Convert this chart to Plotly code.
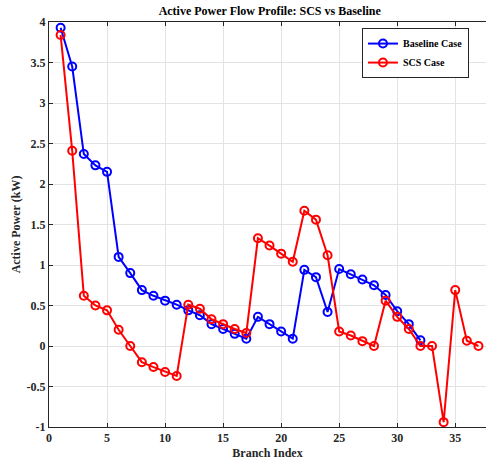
import plotly.graph_objects as go

branch_base = list(range(1, 33))
baseline = [3.93, 3.45, 2.37, 2.23, 2.15, 1.10, 0.90, 0.69, 0.62, 0.56, 0.51,
            0.44, 0.38, 0.27, 0.21, 0.15, 0.09, 0.36, 0.27, 0.18, 0.09, 0.94,
            0.85, 0.42, 0.95, 0.885, 0.82, 0.75, 0.63, 0.43, 0.27, 0.07]
branch_scs = list(range(1, 38))
scs = [3.84, 2.41, 0.62, 0.50, 0.44, 0.20, 0.00, -0.20, -0.26, -0.32, -0.37,
       0.51, 0.46, 0.33, 0.27, 0.21, 0.16, 1.33, 1.24, 1.14, 1.04, 1.67,
       1.56, 1.12, 0.18, 0.13, 0.06, 0.00, 0.56, 0.36, 0.21, 0.00, 0.00,
       -0.94, 0.69, 0.065, 0.00]
x_ticks = [0, 5, 10, 15, 20, 25, 30, 35]
y_ticks = [-1, -0.5, 0, 0.5, 1, 1.5, 2, 2.5, 3, 3.5, 4]

FONT = "Liberation Serif"

fig = go.Figure()
fig.add_trace(go.Scatter(
    x=branch_base, y=baseline, mode="lines+markers", name="<b>Baseline Case</b>",
    line=dict(color="#0000ff", width=2),
    marker=dict(symbol="circle-open", size=8, color="#0000ff", line=dict(width=2))))
fig.add_trace(go.Scatter(
    x=branch_scs, y=scs, mode="lines+markers", name="<b>SCS Case</b>",
    line=dict(color="#ff0000", width=2),
    marker=dict(symbol="circle-open", size=8, color="#ff0000", line=dict(width=2))))

fig.update_layout(
    width=486, height=464,
    margin=dict(l=49, r=0, t=22, b=37),
    paper_bgcolor="white", plot_bgcolor="white",
    font=dict(family=FONT, size=12, color="#262626"),
    title=dict(text="<b>Active Power Flow Profile: SCS vs Baseline</b>",
               x=0.555, xanchor="center", y=0.985, yanchor="top",
               font=dict(family=FONT, size=12, color="black")),
    showlegend=True,
    legend=dict(x=0.961, y=0.985, xanchor="right", yanchor="top",
                bgcolor="white", bordercolor="#262626", borderwidth=1,
                font=dict(family=FONT, size=10, color="black"),
                tracegroupgap=0, itemwidth=30),
)
fig.update_xaxes(
    range=[0, 37.65], tickvals=x_ticks, ticktext=[f"<b>{v}</b>" for v in x_ticks],
    ticks="inside", ticklen=4,
    tickcolor="#262626", showline=True, linecolor="#262626", linewidth=1,
    mirror="ticks", showgrid=True, gridcolor="#e3e3e3", gridwidth=1,
    zeroline=False, tickfont=dict(family=FONT, size=12),
    title=dict(text="<b>Branch Index</b>", standoff=4,
               font=dict(family=FONT, size=12)))
fig.update_yaxes(
    range=[-1, 4], tickvals=y_ticks, ticktext=[f"<b>{v:g}</b>" for v in y_ticks],
    ticks="inside", ticklen=4, tickcolor="#262626",
    showline=True, linecolor="#262626", linewidth=1, mirror=False,
    showgrid=True, gridcolor="#e3e3e3", gridwidth=1, zeroline=False,
    tickfont=dict(family=FONT, size=12),
    title=dict(text="<b>Active Power (kW)</b>", standoff=3,
               font=dict(family=FONT, size=12)))

fig.write_html("out.html")
